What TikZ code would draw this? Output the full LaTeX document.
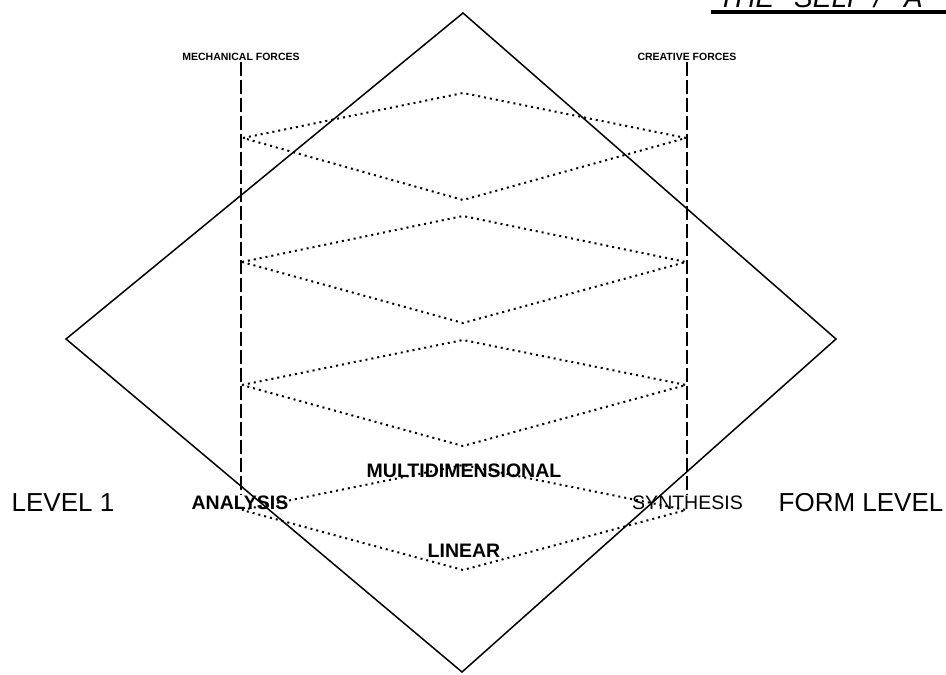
\documentclass[tikz,border=0pt]{standalone}
\usepackage{fontspec}
\setmainfont{Liberation Sans}
\usepackage{tikz}
\tikzset{
frame/.style={draw, line width=1.5pt}, % the big diamond
forceline/.style={draw, line width=1.5pt, dash pattern=on 14pt off 4pt}, % the two force axes
zigzag/.style={draw, line width=2pt, dash pattern=on 2pt off 4pt}, % the dotted lenses
biglabel/.style={inner sep=1pt, font=\fontsize{26}{28}\selectfont}, % level names
midlabel/.style={inner sep=1pt, font=\fontsize{19.5}{21}\selectfont\bfseries}, % labels on the lenses
smalllabel/.style={inner sep=1pt, font=\fontsize{10.5}{12}\selectfont\bfseries}, % force names
}

\begin{document}
\begin{tikzpicture}[x=1pt, y=-1pt]
\useasboundingbox (0,0) rectangle (946,675);

% title, cut by the page edge
\begin{scope}
\clip (0,0) rectangle (946,675);
\node[anchor=base west, inner sep=0pt, font=\fontsize{28}{30}\selectfont\itshape] (title) at (718,7.5)
 {THE\hspace{20pt}SELF\hspace{10pt}/\hspace{22pt}A};
\end{scope}
\coordinate (ula) at (711,12);
\coordinate (ulb) at (946,12);
\draw[line width=3.5pt] (ula) -- (ulb);

% diamond
\coordinate (top) at (463,13);
\coordinate (lft) at (66,339);
\coordinate (rgt) at (836,339);
\coordinate (bot) at (462,672);
\draw[frame] (top) -- (rgt) -- (bot) -- (lft) -- cycle;

% labels
\node[smalllabel] (mech) at (241,57) {MECHANICAL FORCES};
\node[smalllabel] (crea) at (687,57) {CREATIVE FORCES};
\node[biglabel] (lvl) at (63,502.5) {LEVEL 1};
\node[biglabel] (form) at (861,502.5) {FORM LEVEL};
\node[midlabel] (ana) at (240,502.5) {ANALYSIS};
\node[midlabel, font=\fontsize{19.5}{21}\selectfont] (syn) at (687.5,502.5) {SYNTHESIS};
\node[midlabel] (multi) at (464,470.5) {MULTIDIMENSIONAL};
\node[midlabel] (lin) at (464,550.5) {LINEAR};

% force axes
\draw[forceline] (mech.south) -- (mech.south |- ana.north);
\draw[forceline] (crea.south) -- (crea.south |- syn.north);

% lens corners
\coordinate (l1) at (243,138); \coordinate (t1) at (463,93);
\coordinate (r1) at (686,138); \coordinate (b1) at (463,200);
\coordinate (l2) at (242,262); \coordinate (t2) at (463,216);
\coordinate (r2) at (686,262); \coordinate (b2) at (463,323);
\coordinate (l3) at (242,385); \coordinate (t3) at (463,340);
\coordinate (r3) at (686,385); \coordinate (b3) at (463,446);
\coordinate (l4) at (242,510); \coordinate (t4) at (463,465);
\coordinate (r4) at (686,510); \coordinate (b4) at (463,570);

\draw[zigzag] (l1) -- (t1) -- (r1) -- (b1) -- cycle;
\draw[zigzag] (l2) -- (t2) -- (r2) -- (b2) -- cycle;
\draw[zigzag] (l3) -- (t3) -- (r3) -- (b3) -- cycle;
\draw[zigzag] (l4) -- (t4) -- (r4) -- (b4) -- cycle;
\end{tikzpicture}
\end{document}
